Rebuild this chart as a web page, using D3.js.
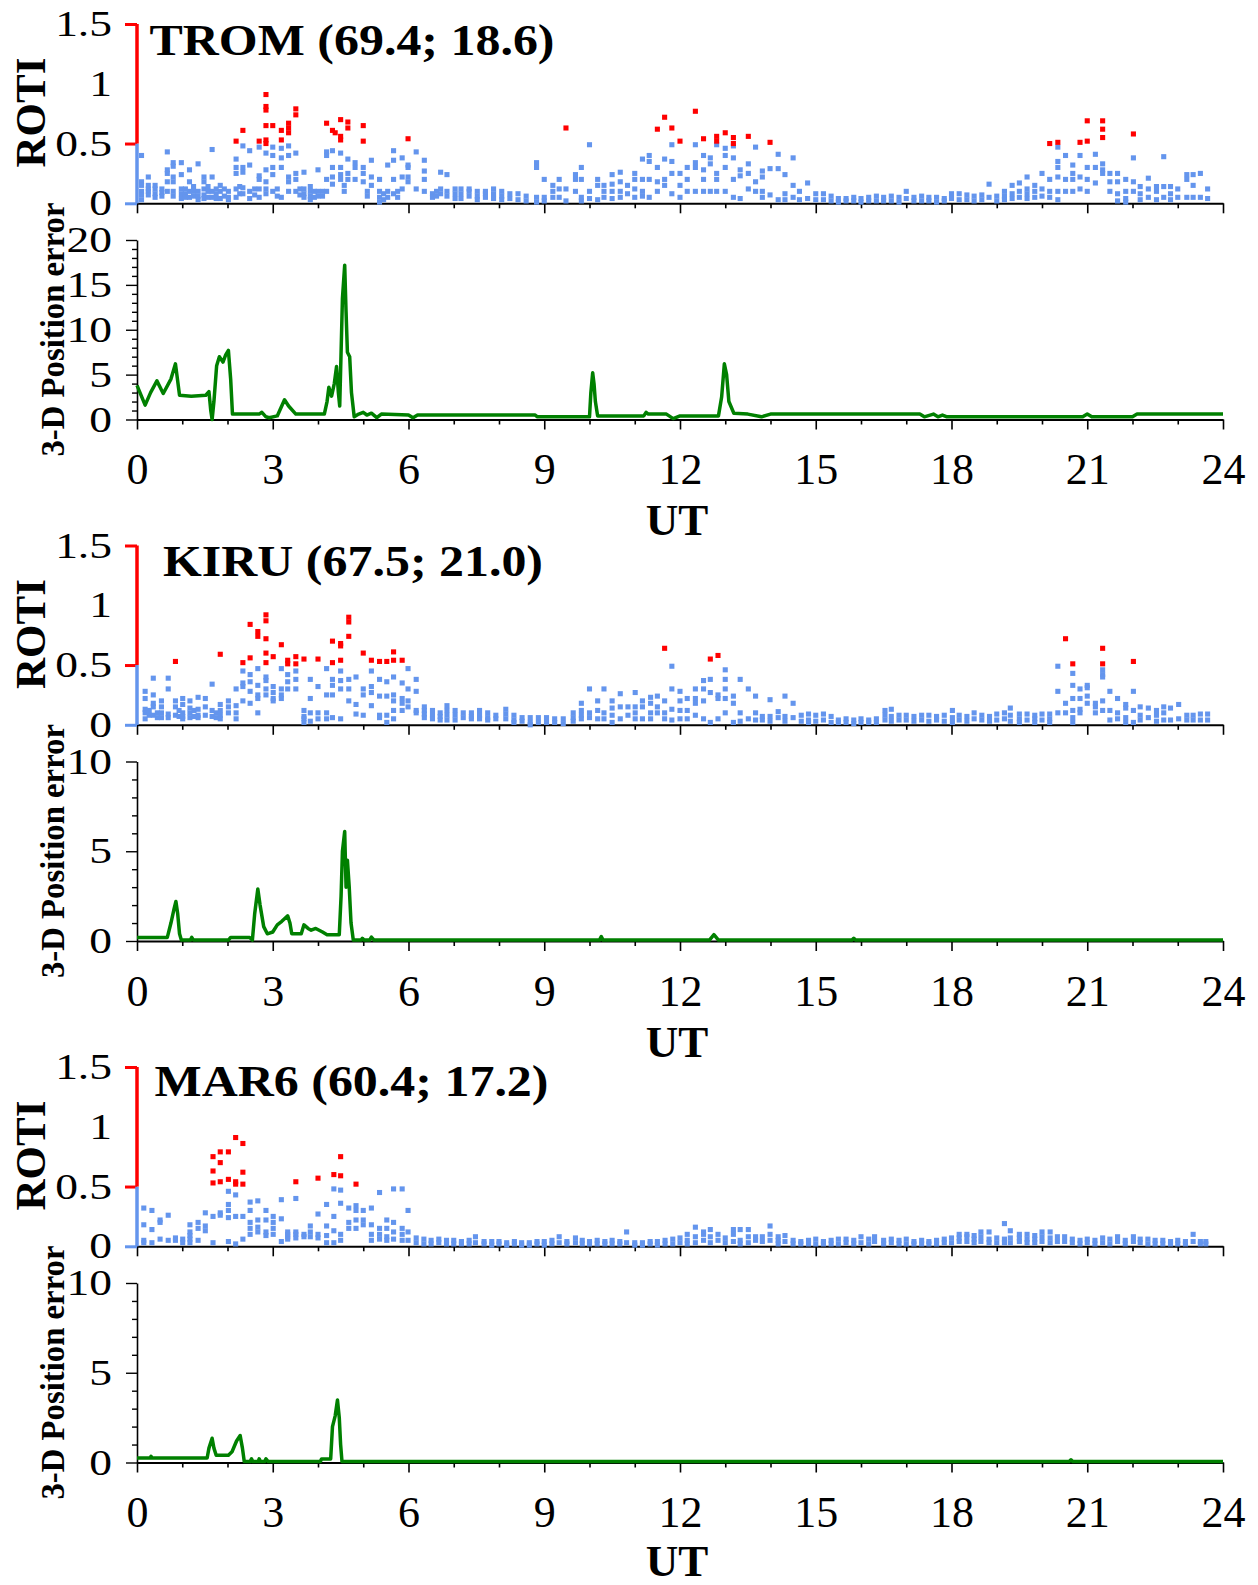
<!DOCTYPE html>
<html>
<head>
<meta charset="utf-8">
<script src="https://cdn.jsdelivr.net/npm/d3@7"></script>
<style>
  body { margin: 0; background: #fff; }
  svg { display: block; }
  svg text { font-family: "Liberation Serif", "Times New Roman", Times, serif; }
</style>
</head>
<body>
<svg class="chart" width="1258" height="1585"></svg>
<script>
// ---- data ----
const stationLabels = ["TROM (69.4; 18.6)", "KIRU (67.5; 21.0)", "MAR6 (60.4; 17.2)"];
const utTicks = [0, 3, 6, 9, 12, 15, 18, 21, 24];
const utMinorTicks = [0, 1, 2, 3, 4, 5, 6, 7, 8, 9, 10, 11, 12, 13, 14, 15, 16, 17, 18, 19, 20, 21, 22, 23, 24];
const rotiTicks = [0, 0.5, 1, 1.5];
const rotiThreshold = 0.5;
const errorMax = [20, 10, 10];
const errorTicks20 = [0, 1, 2, 3, 4, 5, 6, 7, 8, 9, 10, 11, 12, 13, 14, 15, 16, 17, 18, 19, 20];
const errorTicks10 = [0, 1, 2, 3, 4, 5, 6, 7, 8, 9, 10];
const errorLabels = [0, 5, 10, 15, 20];

// ROTI columns: [UT, roti values...]
const tromRoti = [
  [0.1, 0.40, 0.18, 0.15, 0.10, 0.07, 0.03], [0.25, 0.22, 0.15, 0.12, 0.10, 0.07], [0.4, 0.15, 0.12, 0.08, 0.05],
  [0.55, 0.12, 0.09, 0.06], [0.67, 0.43, 0.28, 0.25, 0.18, 0.10], [0.8, 0.34, 0.31, 0.22, 0.18, 0.10, 0.06],
  [0.98, 0.34, 0.24, 0.12, 0.08, 0.04], [1.07, 0.12, 0.08, 0.05], [1.16, 0.28, 0.18, 0.10, 0.05],
  [1.25, 0.14, 0.10, 0.06], [1.35, 0.33, 0.10, 0.06, 0.03], [1.48, 0.22, 0.18, 0.12, 0.07, 0.04],
  [1.57, 0.14, 0.10, 0.05], [1.66, 0.45, 0.22, 0.10, 0.05], [1.75, 0.12, 0.08, 0.04], [1.84, 0.15, 0.10, 0.04],
  [1.93, 0.12, 0.06], [2.02, 0.10, 0.05, 0.03], [2.19, 0.52, 0.37, 0.30, 0.25, 0.12, 0.05], [2.27, 0.14, 0.08],
  [2.34, 0.61, 0.48, 0.30, 0.26, 0.13, 0.08], [2.49, 0.44, 0.32, 0.10, 0.04], [2.6, 0.12, 0.07],
  [2.7, 0.52, 0.47, 0.23, 0.20, 0.12, 0.05], [2.85, 0.91, 0.81, 0.78, 0.65, 0.53, 0.50, 0.42, 0.28, 0.18, 0.12, 0.08],
  [3.0, 0.65, 0.47, 0.40, 0.30, 0.24, 0.10], [3.1, 0.12, 0.06], [3.19, 0.61, 0.53, 0.46, 0.38, 0.30, 0.05],
  [3.35, 0.67, 0.63, 0.59, 0.48, 0.40, 0.22, 0.18, 0.10], [3.51, 0.79, 0.74, 0.42, 0.25, 0.20, 0.10],
  [3.6, 0.12, 0.07], [3.69, 0.26, 0.12, 0.08, 0.05], [3.83, 0.14, 0.10, 0.06, 0.03], [3.92, 0.10, 0.05],
  [4.0, 0.28, 0.10, 0.06], [4.1, 0.10, 0.06], [4.19, 0.67, 0.43, 0.40, 0.20, 0.10], [4.32, 0.61, 0.44, 0.30, 0.22, 0.16],
  [4.38, 0.59], [4.5, 0.70, 0.56, 0.53, 0.42, 0.30, 0.24, 0.20], [4.58, 0.15, 0.10], [4.66, 0.68, 0.63, 0.37, 0.25, 0.20],
  [4.82, 0.34, 0.30, 0.20], [5.0, 0.65, 0.52, 0.30, 0.25, 0.18], [5.09, 0.10, 0.06], [5.18, 0.36, 0.22, 0.15],
  [5.36, 0.20, 0.10, 0.05, 0.01], [5.45, 0.08, 0.03], [5.54, 0.32, 0.10, 0.05], [5.67, 0.44, 0.36, 0.20, 0.08],
  [5.76, 0.10, 0.05], [5.86, 0.38, 0.22, 0.12], [5.99, 0.54, 0.32, 0.30, 0.22, 0.18], [6.17, 0.43, 0.12],
  [6.35, 0.36, 0.27, 0.20, 0.10], [6.53, 0.08, 0.05], [6.62, 0.10, 0.06], [6.71, 0.26, 0.12, 0.08],
  [6.85, 0.24, 0.10, 0.06], [7.03, 0.12, 0.08, 0.04], [7.16, 0.12, 0.08, 0.04], [7.34, 0.12, 0.10, 0.06],
  [7.52, 0.10, 0.06, 0.03], [7.7, 0.10, 0.08, 0.05], [7.88, 0.12, 0.08, 0.04], [8.06, 0.10, 0.06, 0.03],
  [8.24, 0.08, 0.04], [8.42, 0.08, 0.03], [8.6, 0.06, 0.02], [8.83, 0.34, 0.30, 0.05, 0.01], [9.0, 0.20, 0.05, 0.02],
  [9.19, 0.15, 0.10, 0.05], [9.33, 0.20, 0.12, 0.05], [9.48, 0.63, 0.12, 0.02], [9.69, 0.24, 0.20, 0.10],
  [9.82, 0.30, 0.20, 0.05, 0.02], [10.0, 0.49, 0.10, 0.04], [10.18, 0.20, 0.15, 0.03], [10.32, 0.15, 0.10, 0.05],
  [10.5, 0.24, 0.16, 0.10, 0.04], [10.68, 0.26, 0.18, 0.10, 0.05], [10.84, 0.15, 0.08], [11.0, 0.25, 0.20, 0.12, 0.05],
  [11.17, 0.37, 0.20, 0.10, 0.06], [11.32, 0.40, 0.35, 0.20, 0.05], [11.5, 0.62, 0.30, 0.18, 0.10],
  [11.66, 0.72, 0.37, 0.20, 0.15], [11.82, 0.63, 0.49, 0.35, 0.25, 0.08], [12.0, 0.52, 0.25, 0.15, 0.05],
  [12.16, 0.30, 0.20, 0.10], [12.34, 0.77, 0.49, 0.34, 0.30, 0.10], [12.52, 0.54, 0.40, 0.28, 0.20, 0.10],
  [12.67, 0.38, 0.33, 0.10], [12.81, 0.56, 0.52, 0.49, 0.25, 0.20, 0.10], [13.0, 0.59, 0.46, 0.40, 0.30, 0.10],
  [13.18, 0.55, 0.50, 0.48, 0.38, 0.20, 0.05], [13.33, 0.28, 0.23, 0.04], [13.51, 0.56, 0.33, 0.25, 0.12],
  [13.67, 0.47, 0.18, 0.10], [13.82, 0.27, 0.22, 0.10, 0.05], [13.99, 0.51, 0.29, 0.07], [14.17, 0.41, 0.29, 0.03],
  [14.32, 0.24, 0.08, 0.03], [14.5, 0.38, 0.15, 0.05], [14.64, 0.10, 0.03], [14.82, 0.17, 0.04], [15.0, 0.08, 0.03],
  [15.17, 0.08, 0.03], [15.34, 0.06, 0.02], [15.5, 0.04, 0.01], [15.67, 0.04, 0.02], [15.84, 0.05, 0.02],
  [16.0, 0.04, 0.01], [16.17, 0.05, 0.02], [16.34, 0.06, 0.02], [16.5, 0.05, 0.02], [16.67, 0.06, 0.02],
  [16.84, 0.05, 0.01], [17.0, 0.10, 0.04], [17.17, 0.05, 0.02], [17.34, 0.06, 0.02], [17.5, 0.05, 0.02],
  [17.67, 0.05, 0.01], [17.84, 0.04, 0.02], [18.0, 0.08, 0.04], [18.17, 0.08, 0.03], [18.34, 0.07, 0.03],
  [18.5, 0.06, 0.02], [18.67, 0.07, 0.03], [18.83, 0.16, 0.05], [19.0, 0.06, 0.02], [19.17, 0.10, 0.06, 0.03],
  [19.34, 0.15, 0.08, 0.04], [19.5, 0.17, 0.10, 0.05], [19.67, 0.22, 0.12, 0.08, 0.04], [19.84, 0.15, 0.10, 0.05],
  [20.0, 0.25, 0.12, 0.06], [20.17, 0.50, 0.20, 0.10, 0.05], [20.35, 0.51, 0.47, 0.35, 0.30, 0.22, 0.10, 0.03],
  [20.52, 0.40, 0.20, 0.10], [20.68, 0.32, 0.25, 0.20, 0.10], [20.84, 0.51, 0.40, 0.22, 0.12],
  [21.0, 0.69, 0.52, 0.30, 0.20, 0.10], [21.18, 0.41, 0.30, 0.17], [21.34, 0.69, 0.62, 0.55, 0.33, 0.28, 0.25],
  [21.5, 0.25, 0.18, 0.10], [21.67, 0.25, 0.18, 0.08, 0.02], [21.85, 0.20, 0.10, 0.04, 0.01],
  [22.02, 0.58, 0.38, 0.18, 0.10], [22.17, 0.14, 0.08, 0.03], [22.35, 0.21, 0.12, 0.05], [22.53, 0.14, 0.10, 0.03],
  [22.69, 0.39, 0.14, 0.05], [22.84, 0.14, 0.08, 0.03], [23.0, 0.12, 0.05], [23.2, 0.24, 0.20, 0.05],
  [23.34, 0.24, 0.15, 0.05], [23.5, 0.25, 0.05], [23.66, 0.12, 0.04]
];

const kiruRoti = [
  [0.18, 0.28, 0.22, 0.13, 0.10, 0.05], [0.27, 0.12, 0.08], [0.36, 0.39, 0.25, 0.18, 0.15, 0.08], [0.45, 0.10, 0.06],
  [0.54, 0.20, 0.15, 0.10, 0.06], [0.69, 0.39, 0.30, 0.09, 0.06], [0.85, 0.53, 0.20, 0.15, 0.08], [0.93, 0.12, 0.07],
  [1.01, 0.22, 0.17, 0.10, 0.07, 0.05], [1.17, 0.20, 0.14, 0.10, 0.06], [1.26, 0.12, 0.07], [1.35, 0.23, 0.13, 0.08, 0.06],
  [1.51, 0.22, 0.15, 0.08], [1.66, 0.34, 0.12, 0.07], [1.75, 0.10, 0.06], [1.84, 0.59, 0.17, 0.12, 0.08, 0.05],
  [2.02, 0.20, 0.15, 0.10], [2.19, 0.30, 0.16, 0.10, 0.05], [2.34, 0.52, 0.45, 0.35, 0.32, 0.20],
  [2.5, 0.84, 0.56, 0.42, 0.36, 0.28, 0.18], [2.67, 0.78, 0.74, 0.47, 0.33, 0.25, 0.22, 0.10],
  [2.85, 0.92, 0.87, 0.72, 0.60, 0.52, 0.40, 0.37, 0.30, 0.25], [3.01, 0.57, 0.32, 0.27, 0.22, 0.20],
  [3.19, 0.67, 0.47, 0.30, 0.25, 0.22], [3.33, 0.54, 0.51, 0.42, 0.36, 0.30], [3.51, 0.57, 0.51, 0.45, 0.38, 0.30],
  [3.69, 0.55, 0.12, 0.07, 0.05, 0.02], [3.83, 0.38, 0.22, 0.10, 0.03], [4.0, 0.55, 0.32, 0.10, 0.05],
  [4.19, 0.47, 0.25, 0.10, 0.05], [4.32, 0.70, 0.52, 0.38, 0.33, 0.25, 0.06], [4.5, 0.68, 0.66, 0.54, 0.45, 0.37, 0.30, 0.05],
  [4.68, 0.90, 0.86, 0.74, 0.38, 0.30, 0.20], [4.84, 0.40, 0.17, 0.09], [5.0, 0.60, 0.30, 0.25, 0.08],
  [5.18, 0.54, 0.45, 0.32, 0.27, 0.16], [5.36, 0.53, 0.38, 0.24, 0.08, 0.06], [5.52, 0.53, 0.36, 0.24, 0.08, 0.02],
  [5.67, 0.61, 0.54, 0.40, 0.25, 0.20, 0.12, 0.05], [5.86, 0.54, 0.35, 0.22, 0.18, 0.12], [5.99, 0.47, 0.30, 0.20, 0.15],
  [6.17, 0.38, 0.28, 0.12, 0.10], [6.35, 0.15, 0.12, 0.09, 0.06], [6.53, 0.12, 0.08, 0.05], [6.7, 0.10, 0.07, 0.04],
  [6.85, 0.16, 0.12, 0.08, 0.04], [7.03, 0.12, 0.08, 0.04], [7.21, 0.10, 0.06], [7.39, 0.10, 0.07, 0.05],
  [7.57, 0.12, 0.08, 0.05], [7.75, 0.10, 0.06, 0.04], [7.93, 0.08, 0.05], [8.15, 0.13, 0.09, 0.05],
  [8.33, 0.08, 0.04, 0.02], [8.51, 0.06, 0.03], [8.69, 0.06, 0.02, 0.00], [8.87, 0.06, 0.02], [9.05, 0.06, 0.02],
  [9.23, 0.05, 0.02], [9.42, 0.05, 0.01], [9.64, 0.10, 0.06, 0.03], [9.82, 0.18, 0.12, 0.08, 0.05],
  [10.0, 0.30, 0.10, 0.06], [10.18, 0.20, 0.12, 0.05], [10.32, 0.30, 0.10, 0.05], [10.5, 0.20, 0.14, 0.08, 0.02],
  [10.68, 0.26, 0.15, 0.05], [10.85, 0.15, 0.08], [11.01, 0.27, 0.15, 0.10, 0.05], [11.17, 0.20, 0.15, 0.05],
  [11.35, 0.23, 0.18, 0.10, 0.05], [11.5, 0.24, 0.15, 0.10], [11.66, 0.64, 0.20, 0.10, 0.05],
  [11.82, 0.49, 0.30, 0.13, 0.04], [12.0, 0.28, 0.20, 0.12, 0.05], [12.16, 0.22, 0.12, 0.05],
  [12.34, 0.30, 0.22, 0.18, 0.08], [12.52, 0.37, 0.30, 0.20, 0.05], [12.67, 0.55, 0.38, 0.27, 0.02],
  [12.84, 0.58, 0.25, 0.22, 0.05], [13.0, 0.46, 0.38, 0.30, 0.22, 0.10], [13.18, 0.24, 0.18, 0.02],
  [13.33, 0.38, 0.10, 0.03], [13.51, 0.30, 0.05], [13.67, 0.24, 0.10, 0.04], [13.82, 0.07, 0.04],
  [13.99, 0.21, 0.07, 0.03], [14.17, 0.11, 0.06], [14.32, 0.24, 0.07, 0.03], [14.5, 0.18, 0.06], [14.68, 0.08, 0.03],
  [14.84, 0.09, 0.04, 0.02], [15.0, 0.08, 0.03], [15.17, 0.09, 0.04], [15.34, 0.07, 0.02], [15.5, 0.04, 0.02],
  [15.67, 0.05, 0.02], [15.84, 0.04, 0.01], [16.0, 0.05, 0.02], [16.17, 0.04, 0.02], [16.34, 0.05, 0.02],
  [16.53, 0.12, 0.08, 0.04], [16.67, 0.13, 0.07, 0.03], [16.84, 0.08, 0.04], [17.0, 0.08, 0.04], [17.17, 0.07, 0.03],
  [17.34, 0.08, 0.04], [17.5, 0.08, 0.03], [17.67, 0.07, 0.04], [17.84, 0.08, 0.03], [18.02, 0.12, 0.06, 0.02],
  [18.17, 0.08, 0.04], [18.34, 0.07, 0.03], [18.5, 0.10, 0.05], [18.67, 0.08, 0.04], [18.84, 0.07, 0.03],
  [19.0, 0.09, 0.04], [19.17, 0.10, 0.05], [19.3, 0.14, 0.08, 0.03], [19.5, 0.09, 0.05, 0.02], [19.67, 0.09, 0.04],
  [19.84, 0.08, 0.05, 0.02], [20.0, 0.09, 0.04], [20.17, 0.09, 0.05, 0.02], [20.35, 0.49, 0.28, 0.10],
  [20.52, 0.72, 0.18, 0.10], [20.68, 0.51, 0.43, 0.33, 0.22, 0.12, 0.06, 0.02], [20.84, 0.30, 0.22, 0.13, 0.10],
  [21.0, 0.33, 0.31, 0.24, 0.18], [21.18, 0.18, 0.15, 0.10], [21.34, 0.64, 0.51, 0.46, 0.42, 0.40, 0.20, 0.12],
  [21.5, 0.28, 0.12, 0.04], [21.67, 0.22, 0.10, 0.05], [21.85, 0.17, 0.14, 0.06, 0.02], [22.02, 0.53, 0.28, 0.12, 0.02],
  [22.17, 0.15, 0.08, 0.04], [22.35, 0.14, 0.06], [22.53, 0.12, 0.08, 0.03], [22.69, 0.15, 0.10, 0.04],
  [22.84, 0.14, 0.04], [23.02, 0.17, 0.05], [23.2, 0.08, 0.04], [23.34, 0.08, 0.04], [23.5, 0.09, 0.04],
  [23.66, 0.09, 0.04]
];

const mar6Roti = [
  [0.15, 0.32, 0.18, 0.05, 0.03], [0.33, 0.30, 0.14, 0.03], [0.51, 0.22, 0.20, 0.06], [0.69, 0.26, 0.05],
  [0.85, 0.07, 0.05], [1.01, 0.06, 0.03], [1.17, 0.18, 0.12, 0.09, 0.06, 0.03], [1.35, 0.20, 0.15, 0.05],
  [1.51, 0.28, 0.17, 0.13], [1.68, 0.75, 0.63, 0.53, 0.25, 0.03], [1.84, 0.79, 0.70, 0.54, 0.28, 0.26],
  [2.02, 0.79, 0.56, 0.46, 0.35, 0.30, 0.24, 0.04], [2.18, 0.91, 0.54, 0.52, 0.43, 0.25, 0.02],
  [2.34, 0.86, 0.62, 0.52, 0.25, 0.06], [2.5, 0.37, 0.30, 0.20, 0.15, 0.10], [2.67, 0.38, 0.22, 0.16, 0.12],
  [2.85, 0.30, 0.22, 0.12, 0.09], [3.01, 0.25, 0.20, 0.15, 0.10], [3.19, 0.39, 0.23, 0.04],
  [3.33, 0.12, 0.10, 0.08, 0.06], [3.51, 0.54, 0.40, 0.12, 0.10, 0.07], [3.69, 0.10, 0.08], [3.83, 0.17, 0.12, 0.08],
  [4.0, 0.57, 0.27, 0.10, 0.07], [4.19, 0.35, 0.17, 0.09, 0.03], [4.35, 0.60, 0.48, 0.25, 0.13, 0.03],
  [4.5, 0.75, 0.59, 0.47, 0.36, 0.10, 0.05], [4.68, 0.32, 0.20, 0.15], [4.84, 0.52, 0.34, 0.30, 0.22, 0.15],
  [5.0, 0.30, 0.22, 0.18], [5.18, 0.32, 0.18, 0.10, 0.05], [5.36, 0.45, 0.15, 0.10, 0.06],
  [5.52, 0.22, 0.15, 0.08, 0.05], [5.67, 0.48, 0.20, 0.12, 0.06], [5.86, 0.48, 0.15, 0.10, 0.05],
  [5.99, 0.30, 0.12, 0.05], [6.17, 0.07, 0.03], [6.34, 0.06, 0.02], [6.5, 0.05, 0.02], [6.67, 0.06, 0.03],
  [6.84, 0.05, 0.02], [7.0, 0.05, 0.02], [7.17, 0.04, 0.02], [7.34, 0.05, 0.02], [7.48, 0.08, 0.03],
  [7.67, 0.04, 0.02], [7.84, 0.04, 0.01], [8.0, 0.04, 0.02], [8.17, 0.03, 0.01], [8.34, 0.04, 0.02],
  [8.5, 0.03, 0.01], [8.67, 0.03, 0.01], [8.84, 0.04, 0.02], [9.0, 0.04, 0.01], [9.17, 0.05, 0.02],
  [9.33, 0.08, 0.03], [9.5, 0.04, 0.02], [9.69, 0.07, 0.03], [9.84, 0.05, 0.02], [10.0, 0.04, 0.02],
  [10.17, 0.05, 0.02], [10.34, 0.04, 0.02], [10.5, 0.05, 0.02], [10.67, 0.04, 0.02], [10.82, 0.12, 0.03],
  [11.0, 0.03, 0.01], [11.17, 0.03, 0.01], [11.34, 0.04, 0.02], [11.5, 0.04, 0.01], [11.67, 0.05, 0.02],
  [11.84, 0.06, 0.02], [12.0, 0.07, 0.03], [12.16, 0.10, 0.05, 0.02], [12.34, 0.16, 0.08, 0.03],
  [12.52, 0.12, 0.10, 0.05], [12.67, 0.14, 0.08, 0.03], [12.84, 0.10, 0.05], [13.0, 0.07, 0.03],
  [13.18, 0.14, 0.10, 0.04], [13.33, 0.14, 0.05, 0.02], [13.51, 0.14, 0.08, 0.03], [13.67, 0.08, 0.05],
  [13.82, 0.08, 0.04], [13.99, 0.17, 0.10, 0.05], [14.17, 0.08, 0.05, 0.02], [14.32, 0.09, 0.04],
  [14.5, 0.05, 0.02], [14.67, 0.04, 0.02], [14.84, 0.05, 0.02], [15.0, 0.06, 0.02], [15.17, 0.04, 0.02],
  [15.34, 0.05, 0.02], [15.5, 0.06, 0.02], [15.67, 0.06, 0.03], [15.84, 0.05, 0.02], [16.0, 0.08, 0.03],
  [16.17, 0.06, 0.02], [16.3, 0.08, 0.04], [16.5, 0.05, 0.02], [16.67, 0.06, 0.03], [16.84, 0.05, 0.02],
  [17.0, 0.06, 0.02], [17.17, 0.04, 0.02], [17.34, 0.05, 0.02], [17.5, 0.04, 0.02], [17.67, 0.05, 0.02],
  [17.84, 0.06, 0.03], [18.0, 0.07, 0.03], [18.17, 0.10, 0.07, 0.04], [18.34, 0.10, 0.08, 0.04],
  [18.5, 0.09, 0.06, 0.03], [18.65, 0.12, 0.08, 0.04], [18.83, 0.12, 0.06, 0.03], [19.0, 0.07, 0.03],
  [19.17, 0.19, 0.06, 0.03], [19.3, 0.13, 0.07, 0.03], [19.5, 0.10, 0.07, 0.04], [19.67, 0.10, 0.06, 0.03],
  [19.84, 0.09, 0.06, 0.03], [20.0, 0.12, 0.08, 0.04], [20.18, 0.12, 0.07, 0.03], [20.34, 0.08, 0.04],
  [20.5, 0.08, 0.04], [20.67, 0.06, 0.03], [20.84, 0.05, 0.02], [21.0, 0.06, 0.03], [21.17, 0.05, 0.02],
  [21.34, 0.07, 0.03], [21.5, 0.06, 0.02], [21.67, 0.08, 0.04], [21.84, 0.05, 0.02], [22.02, 0.08, 0.04],
  [22.17, 0.06, 0.03], [22.34, 0.06, 0.02], [22.5, 0.05, 0.02], [22.67, 0.05, 0.02], [22.84, 0.04, 0.02],
  [23.0, 0.05, 0.02], [23.17, 0.04, 0.02], [23.34, 0.10, 0.04], [23.5, 0.04, 0.02], [23.62, 0.04, 0.02]
];

// 3-D position error: [UT, error]
const tromError = [
  [0, 3.8], [0.18, 1.6], [0.3, 3.0], [0.44, 4.3], [0.58, 2.9], [0.75, 4.5], [0.85, 6.2], [0.94, 2.7], [1.2, 2.6],
  [1.52, 2.7], [1.59, 3.1], [1.63, 1.0], [1.66, 0], [1.7, 2.0], [1.76, 6.0], [1.82, 7.0], [1.9, 6.4], [1.96, 7.2],
  [2.02, 7.7], [2.07, 4.5], [2.11, 0.6], [2.7, 0.6], [2.76, 0.8], [2.85, 0.3], [2.92, 0.2], [3.1, 0.4], [3.26, 2.2],
  [3.35, 1.5], [3.51, 0.6], [4.14, 0.6], [4.2, 2.0], [4.24, 3.6], [4.3, 2.6], [4.36, 4.0], [4.41, 5.9], [4.45, 3.0],
  [4.48, 1.5], [4.51, 7.5], [4.54, 13.5], [4.59, 17.2], [4.62, 12.0], [4.65, 7.5], [4.7, 7.0], [4.74, 3.0],
  [4.8, 0.3], [4.9, 0.6], [5.0, 0.8], [5.08, 0.5], [5.18, 0.7], [5.3, 0.2], [5.4, 0.6], [6.0, 0.5], [6.1, 0.2],
  [6.2, 0.5], [8.8, 0.5], [8.85, 0.3], [10.0, 0.3], [10.03, 3.0], [10.07, 5.2], [10.1, 4.0], [10.13, 2.0],
  [10.18, 0.4], [11.2, 0.4], [11.25, 0.8], [11.3, 0.6], [11.7, 0.6], [11.85, 0.1], [12.0, 0.4], [12.85, 0.4],
  [12.92, 2.5], [12.98, 6.2], [13.03, 5.0], [13.08, 2.0], [13.19, 0.7], [13.5, 0.6], [13.8, 0.3], [14.0, 0.6],
  [17.3, 0.6], [17.4, 0.3], [17.6, 0.6], [17.7, 0.3], [17.8, 0.5], [17.9, 0.3], [20.9, 0.3], [21.0, 0.6],
  [21.1, 0.3], [22.0, 0.3], [22.1, 0.6], [24, 0.6]
];

const kiruError = [
  [0, 0.2], [0.67, 0.2], [0.75, 1.0], [0.82, 1.8], [0.86, 2.2], [0.9, 1.5], [0.94, 0.4], [0.98, 0.05], [1.18, 0.05],
  [1.21, 0.2], [1.25, 0.05], [2.02, 0.05], [2.07, 0.2], [2.49, 0.2], [2.55, 0.05], [2.6, 1.5], [2.67, 2.9],
  [2.72, 2.0], [2.8, 0.8], [2.88, 0.4], [3.0, 0.5], [3.1, 0.9], [3.2, 1.1], [3.33, 1.4], [3.38, 1.0], [3.42, 0.4],
  [3.63, 0.4], [3.69, 0.9], [3.78, 0.7], [3.85, 0.6], [3.95, 0.7], [4.1, 0.5], [4.2, 0.35], [4.47, 0.35],
  [4.51, 2.5], [4.54, 5.0], [4.59, 6.1], [4.62, 3.0], [4.65, 4.5], [4.69, 3.0], [4.73, 1.0], [4.78, 0.05],
  [4.95, 0.05], [4.98, 0.15], [5.02, 0.05], [5.14, 0.05], [5.18, 0.22], [5.24, 0.05], [10.22, 0.05], [10.26, 0.25],
  [10.3, 0.05], [12.65, 0.05], [12.75, 0.35], [12.85, 0.05], [15.8, 0.05], [15.84, 0.15], [15.88, 0.05], [24, 0.05]
];

const mar6Error = [
  [0, 0.25], [0.29, 0.25], [0.31, 0.35], [0.33, 0.25], [1.55, 0.25], [1.59, 0.8], [1.66, 1.35], [1.7, 0.8],
  [1.75, 0.4], [2.02, 0.4], [2.1, 0.6], [2.2, 1.2], [2.28, 1.5], [2.33, 0.8], [2.37, 0.05], [2.5, 0.05],
  [2.53, 0.2], [2.56, 0.05], [2.68, 0.05], [2.7, 0.2], [2.73, 0.05], [2.82, 0.05], [2.85, 0.2], [2.9, 0.05],
  [4.05, 0.05], [4.08, 0.2], [4.28, 0.2], [4.32, 2.0], [4.38, 2.6], [4.43, 3.48], [4.47, 2.5], [4.5, 1.0],
  [4.53, 0.05], [20.6, 0.05], [20.64, 0.15], [20.68, 0.05], [24, 0.05]
];

const rotiSeries = [tromRoti, kiruRoti, mar6Roti];
const errorSeries = [tromError, kiruError, mar6Error];
const errorTickSets = [errorTicks20, errorTicks10, errorTicks10];

// ---- config ----
const blue = "#6495ed";
const red = "#ff0000";
const green = "#008000";
const plotLeft = 137;
const plotRight = 1223;
const panelStep = 521.5;
const rotiTop = 24, rotiBottom = 203.3;
const errTop = 240, errBottom = 419.5;
const titleX = [149.5, 163, 154.5];
const titleW = [405, 380, 394];
const titleY = [55, 54, 53];

const svg = d3.select("svg.chart");
const x = d3.scaleLinear().domain([0, 24]).range([plotLeft, plotRight]);

function translate(x, y) {
  return `translate(${x}, ${y})`;
}

function cleanAxis(a) {
  a.attr("font-family", null).attr("font-size", null);
}

function hourAxis(g, y, withLabels) {
  const axis = d3.axisBottom(x)
    .tickValues(utMinorTicks)
    .tickSize(10)
    .tickSizeOuter(0)
    .tickFormat(d => withLabels && utTicks.includes(d) ? d : "");
  const a = g.append("g").attr("class", "x-axis").attr("transform", translate(0, y)).call(axis);
  cleanAxis(a);
  a.select(".domain").attr("stroke", "#000").attr("stroke-width", 2);
  a.selectAll(".tick line")
    .attr("y2", d => utTicks.includes(d) ? 10 : 5)
    .attr("stroke-width", 1.6);
  a.selectAll(".tick text")
    .attr("y", 64.5).attr("dy", 0)
    .style("font-size", "44px").attr("fill", "#000");
}

function yLabels(a) {
  // tick labels are drawn stretched sideways in the figure
  a.selectAll(".tick text")
    .attr("x", 0).attr("dy", "0.33em")
    .attr("transform", "translate(-25, 0) scale(1.3, 1)")
    .style("font-size", "35px").attr("fill", "#000");
}

function StationComponent(i) {
  const g = svg.append("g").attr("class", "station").attr("transform", translate(0, i * panelStep));

  const yR = d3.scaleLinear().domain([0, 1.5]).range([rotiBottom, rotiTop]);
  const yE = d3.scaleLinear().domain([0, errorMax[i]]).range([errBottom, errTop]);

  // ROTI panel
  hourAxis(g, rotiBottom, false);

  const rAxis = g.append("g").attr("transform", translate(plotLeft, 0))
    .call(d3.axisLeft(yR).tickValues(rotiTicks).tickSize(12).tickFormat(d3.format("")));
  cleanAxis(rAxis);
  rAxis.select(".domain").remove();
  rAxis.selectAll(".tick line")
    .attr("stroke", d => d >= rotiThreshold ? red : blue)
    .attr("stroke-width", 3)
    .attr("display", d => d === 1 ? "none" : null);
  yLabels(rAxis);
  rAxis.append("line")
    .attr("y1", yR(0)).attr("y2", yR(rotiThreshold))
    .attr("stroke", blue).attr("stroke-width", 3.5);
  rAxis.append("line")
    .attr("y1", yR(rotiThreshold)).attr("y2", yR(1.5))
    .attr("stroke", red).attr("stroke-width", 3.5);

  const points = rotiSeries[i].flatMap(c => c.slice(1).map(v => ({ t: c[0], v })));
  const marker = d3.symbol().type(d3.symbolSquare).size(26);
  g.append("g").attr("class", "roti-points")
    .selectAll("path")
    .data(points.filter(p => p.v < rotiThreshold).concat(points.filter(p => p.v >= rotiThreshold)))
    .enter()
    .append("path")
    .attr("d", marker)
    .attr("transform", p => translate(x(p.t), yR(p.v)))
    .attr("fill", p => p.v >= rotiThreshold ? red : blue);

  g.append("text")
    .attr("transform", translate(45, 112.5) + " rotate(-90)")
    .attr("text-anchor", "middle")
    .style("font-size", "43px").style("font-weight", "bold")
    .text("ROTI");

  g.append("text")
    .attr("class", "title")
    .attr("x", titleX[i]).attr("y", titleY[i])
    .attr("textLength", titleW[i]).attr("lengthAdjust", "spacingAndGlyphs")
    .style("font-size", "45px").style("font-weight", "bold")
    .text(stationLabels[i]);

  // 3-D position error panel
  hourAxis(g, errBottom, true);

  const eTicks = errorTickSets[i];
  const eAxis = g.append("g").attr("transform", translate(plotLeft, 0))
    .call(d3.axisLeft(yE).tickValues(eTicks).tickSize(11).tickSizeOuter(0)
      .tickFormat(d => errorLabels.includes(d) ? d : ""));
  cleanAxis(eAxis);
  eAxis.select(".domain").attr("stroke", "#000").attr("stroke-width", 1.6);
  eAxis.selectAll(".tick line")
    .attr("x2", d => errorLabels.includes(d) ? -11 : -5)
    .attr("stroke-width", 1.4);
  yLabels(eAxis);

  const line = d3.line().x(d => x(d[0])).y(d => yE(d[1]));
  g.append("path")
    .datum(errorSeries[i])
    .attr("d", line)
    .attr("fill", "none")
    .attr("stroke", green)
    .attr("stroke-width", 3.5)
    .attr("stroke-linejoin", "round");

  g.append("text")
    .attr("transform", translate(64, 329.5) + " rotate(-90)")
    .attr("text-anchor", "middle")
    .attr("textLength", 254).attr("lengthAdjust", "spacingAndGlyphs")
    .style("font-size", "34px").style("font-weight", "bold")
    .text("3-D Position error");

  // the last "UT" sits on the bottom edge, as in the figure
  g.append("text")
    .attr("x", 677).attr("y", i === 2 ? 533 : 535)
    .attr("text-anchor", "middle")
    .style("font-size", "45px").style("font-weight", "bold")
    .text("UT");
}

// main
[0, 1, 2].forEach(StationComponent);
</script>
</body>
</html>
